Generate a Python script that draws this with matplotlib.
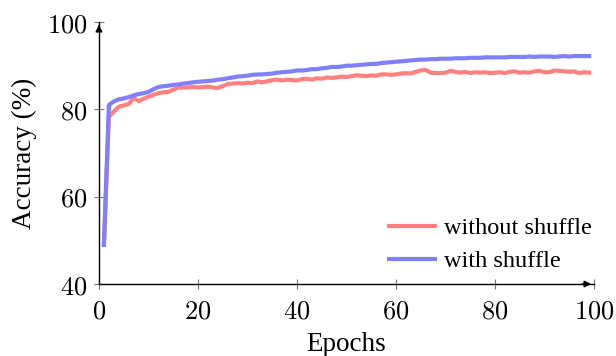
import matplotlib
matplotlib.use("Agg")
import matplotlib.pyplot as plt

epochs = list(range(1, 100))

without_shuffle = [
    49.0, 78.3, 79.5, 80.6, 80.9, 81.2, 82.6, 81.9, 82.4, 82.9,
    83.3, 83.7, 83.9, 84.0, 84.5, 85.0, 85.0, 85.0, 85.1, 85.0,
    85.1, 85.2, 85.0, 84.9, 85.3, 85.8, 85.9, 86.0, 85.9, 86.1,
    86.0, 86.4, 86.2, 86.4, 86.7, 86.8, 86.6, 86.8, 86.7, 86.6,
    86.9, 87.0, 86.8, 87.1, 87.0, 87.3, 87.2, 87.3, 87.5, 87.4,
    87.6, 87.8, 87.7, 87.6, 87.8, 87.7, 88.0, 88.0, 87.9, 88.0,
    88.2, 88.3, 88.2, 88.6, 88.9, 89.0, 88.4, 88.3, 88.3, 88.4,
    88.8, 88.6, 88.4, 88.6, 88.3, 88.5, 88.4, 88.5, 88.3, 88.4,
    88.5, 88.3, 88.6, 88.7, 88.4, 88.5, 88.4, 88.7, 88.8, 88.5,
    88.5, 88.9, 88.8, 88.7, 88.6, 88.7, 88.3, 88.5, 88.4,
]

with_shuffle = [
    49.0, 81.0, 81.8, 82.3, 82.5, 82.8, 83.2, 83.5, 83.7, 84.0,
    84.6, 85.1, 85.3, 85.4, 85.6, 85.7, 85.9, 86.0, 86.2, 86.3,
    86.4, 86.5, 86.6, 86.8, 86.9, 87.1, 87.3, 87.5, 87.6, 87.7,
    87.9, 88.0, 88.0, 88.1, 88.2, 88.4, 88.5, 88.6, 88.7, 88.9,
    88.9, 89.0, 89.2, 89.2, 89.4, 89.5, 89.7, 89.7, 89.8, 90.0,
    90.0, 90.1, 90.2, 90.3, 90.4, 90.4, 90.6, 90.7, 90.8, 90.9,
    91.0, 91.1, 91.2, 91.3, 91.4, 91.4, 91.5, 91.5, 91.6, 91.6,
    91.6, 91.7, 91.7, 91.7, 91.8, 91.8, 91.8, 91.9, 91.9, 91.9,
    91.9, 91.9, 92.0, 92.0, 92.0, 92.0, 92.1, 92.0, 92.1, 92.1,
    92.1, 92.0, 92.1, 92.2, 92.1, 92.2, 92.2, 92.2, 92.2,
]

x_ticks = [0, 20, 40, 60, 80, 100]
y_ticks = [40, 60, 80, 100]

plt.rcParams["mathtext.fontset"] = "cm"
serif = "Liberation Serif"

fig = plt.figure(figsize=(6.16, 3.56), dpi=100)
ax = fig.add_axes([0.1607, 0.2022, 0.8036, 0.7360])

ax.plot(epochs, without_shuffle, color=(1, 0.5, 0.5), lw=3, label="without shuffle")
ax.plot(epochs, with_shuffle, color=(0.5, 0.5, 1), lw=3, label="with shuffle")

ax.set_xlim(0, 100)
ax.set_ylim(40, 100)
ax.set_xticks(x_ticks)
ax.set_yticks(y_ticks)
ax.set_xticklabels([f"${t}$" for t in x_ticks], fontsize=19)
ax.set_yticklabels([f"${t}$" for t in y_ticks], fontsize=19)
ax.tick_params(direction="inout", length=7, width=0.8, color="#777777")
ax.tick_params(axis="x", pad=7)
ax.tick_params(axis="y", pad=5)

for s in ["top", "right"]:
    ax.spines[s].set_visible(False)
for s in ["left", "bottom"]:
    ax.spines[s].set_linewidth(1.0)

# arrow heads at axis ends
ax.annotate("", xy=(1.0, 0), xytext=(0.97, 0), xycoords="axes fraction",
            arrowprops=dict(arrowstyle="-|>", color="black", lw=1.0, mutation_scale=10))
ax.annotate("", xy=(0, 1.0), xytext=(0, 0.97), xycoords="axes fraction",
            arrowprops=dict(arrowstyle="-|>", color="black", lw=1.0, mutation_scale=10))

ax.set_xlabel("Epochs", fontsize=19.5, family=serif, labelpad=5)
ax.set_ylabel("Accuracy (%)", fontsize=19.5, family=serif, labelpad=7)

leg = ax.legend(loc="lower right", frameon=False, prop={"family": serif, "size": 17.5},
                handlelength=1.9, handletextpad=0.35, labelspacing=0.45,
                borderpad=0, borderaxespad=0, bbox_to_anchor=(0.995, 0.045))

fig.savefig("out.png", dpi=100)
